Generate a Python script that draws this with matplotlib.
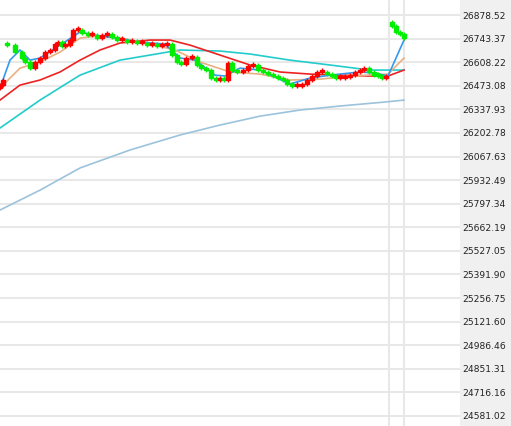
import matplotlib
matplotlib.use("Agg")
import matplotlib.pyplot as plt
from matplotlib.patches import Rectangle

# time positions and closes
cx = [0,3,7,15,22,25,30,35,40,45,50,55,58,62,65,70,73,78,82,88,92,97,102,107,112,117,122,127,132,137,142,147,152,157,162,167,172,177,181,186,192,197,201,206,211,216,220,224,228,232,237,243,248,253,258,263,268,273,278,283,287,292,297,302,307,312,317,322,327,332,336,340,345,350,355,360,364,369,374,378,382,386,392,396,400,404]
closes = [26477,26506,26706,26666,26632,26609,26574,26609,26632,26666,26678,26712,26723,26700,26706,26735,26792,26792,26775,26763,26763,26746,26763,26769,26752,26735,26735,26723,26723,26718,26718,26706,26706,26700,26706,26712,26649,26609,26597,26632,26637,26592,26574,26563,26517,26506,26511,26506,26603,26563,26552,26563,26586,26592,26563,26552,26540,26529,26517,26506,26483,26471,26471,26483,26506,26529,26552,26552,26540,26529,26517,26517,26523,26534,26552,26563,26574,26552,26534,26529,26517,26523,26815,26781,26769,26746]
first_open = 26460
gap_opens = {2: 26720, 82: 26840}

ma_blue_x = [0,10,20,30,40,60,80,95,110,140,165,180,195,215,225,240,260,290,310,330,360,375,388,404]
ma_blue = [26460,26620,26678,26620,26632,26706,26781,26763,26752,26723,26712,26632,26620,26534,26529,26574,26563,26483,26517,26534,26552,26546,26529,26735]
ma_tan_x = [0,20,40,60,80,95,120,150,175,200,230,260,290,320,350,388,404]
ma_tan = [26460,26574,26609,26666,26746,26758,26746,26712,26678,26609,26552,26540,26506,26511,26529,26540,26632]
ma_red_x = [0,20,40,60,80,100,120,150,170,190,220,250,280,310,340,370,388,404]
ma_red = [26391,26477,26506,26552,26620,26678,26718,26735,26735,26706,26649,26592,26552,26540,26534,26529,26529,26563]
ma_cyan_x = [0,40,80,120,150,180,220,250,290,330,370,404]
ma_cyan = [26231,26391,26534,26620,26649,26678,26672,26655,26620,26592,26563,26563]
ma_lb_x = [0,40,80,130,180,220,260,300,340,385,404]
ma_lb = [25761,25875,26002,26105,26191,26248,26299,26334,26357,26380,26391]

yticks = [26878.52,26743.37,26608.22,26473.08,26337.93,26202.78,26067.63,25932.49,25797.34,25662.19,25527.05,25391.90,25256.75,25121.60,24986.46,24851.31,24716.16,24581.02]

fig = plt.figure(figsize=(5.11,4.26), dpi=100)
fig.patch.set_facecolor('#f0f0f0')
ax = fig.add_axes([0,0,460/511,1])
ax.set_facecolor('white')
ax.set_xlim(0,460)
ax.set_ylim(24523.7,26964.5)
for s in ax.spines.values(): s.set_visible(False)
ax.set_xticks([])
ax.set_yticks(yticks)
ax.set_yticklabels([f"{v:.2f}" for v in yticks], fontsize=6.6, color='#222222')
ax.yaxis.tick_right()
ax.tick_params(axis='y', length=0, pad=2)
ax.grid(axis='y', color='#e8e8e8', lw=1.5)
for vx in (389,404):
    ax.axvline(vx, color='#e8e8e8', lw=1.5)

prev = first_open
for i, (x, c) in enumerate(zip(cx, closes)):
    o = gap_opens.get(i, prev)
    col = '#ff0000' if c >= o else '#00ee00'
    lo, hi = min(o,c), max(o,c)
    if hi - lo < 10: hi = lo + 10
    ax.vlines(x, lo-12, hi+12, color=col, lw=1, zorder=3)
    ax.add_patch(Rectangle((x-2.4, lo), 4.8, hi-lo, color=col, zorder=3))
    prev = c

ax.plot(ma_lb_x, ma_lb, color='#9cc3dc', lw=1.2)
ax.plot(ma_cyan_x, ma_cyan, color='#22cccc', lw=1.2)
ax.plot(ma_red_x, ma_red, color='#ee2222', lw=1.2)
ax.plot(ma_tan_x, ma_tan, color='#e8b080', lw=1.2)
ax.plot(ma_blue_x, ma_blue, color='#3399ee', lw=1.2)

fig.savefig("out.png", dpi=100, facecolor=fig.get_facecolor())
